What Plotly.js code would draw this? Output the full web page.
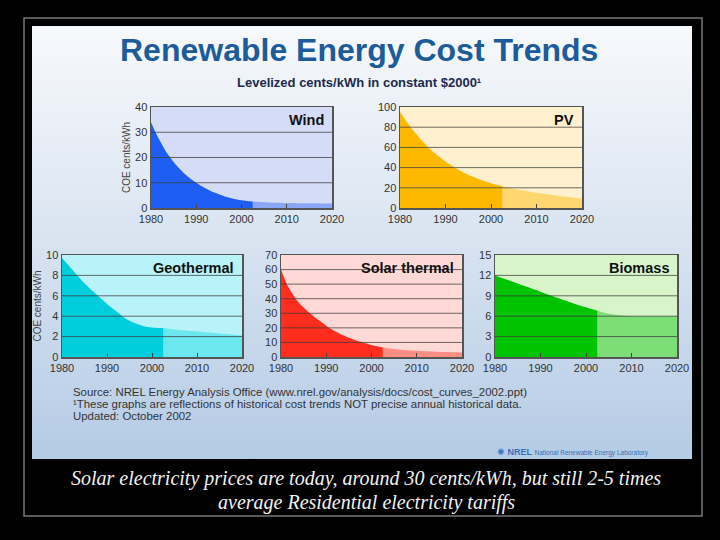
<!DOCTYPE html>
<html>
<head>
<meta charset="utf-8">
<script src="https://cdn.plot.ly/plotly-3.0.1.min.js"></script>
<style>
  html, body { margin: 0; padding: 0; background: #000; }
  #wrap { position: relative; width: 720px; height: 540px; background: #000; }
  #slide { position: absolute; left: 32px; top: 26px; width: 660px; height: 433px;
           background: linear-gradient(#f7f9fc 0%, #dfe8f3 40%, #b4cbe5 100%); }
  #chart { position: absolute; left: 0; top: 0; width: 720px; height: 540px; }
</style>
</head>
<body>
<div id="wrap">
  <div id="slide"></div>
  <div id="chart"></div>
</div>
<script>
// historical (dark) and projected (light) cost curves, cents/kWh
var windHistYears = [1980, 1981, 1982, 1983, 1984, 1985, 1986, 1987, 1988, 1990, 1992, 1994, 1996, 1998, 2000, 2002.5];
var windHist      = [34, 30, 26.5, 23.3, 20.6, 18.2, 16.1, 14.3, 12.7, 10, 7.8, 6.1, 4.8, 3.8, 3.1, 2.6];
var windProjYears = [2002.5, 2005, 2010, 2015, 2020];
var windProj      = [2.6, 2.3, 2.0, 1.9, 1.8];

var pvHistYears = [1980, 1982, 1984, 1986, 1988, 1990, 1992, 1994, 1996, 1998, 2000, 2002.5];
var pvHist      = [95, 82, 71, 61, 53, 46, 40, 35, 31, 27.5, 24.5, 21.5];
var pvProjYears = [2002.5, 2005, 2010, 2015, 2020];
var pvProj      = [21.5, 19, 15, 12, 9.5];

var geoHistYears = [1980, 1982, 1984, 1986, 1988, 1990, 1992, 1994, 1996, 1998, 2000, 2002.5];
var geoHist      = [9.7, 8.7, 7.7, 6.8, 6.0, 5.2, 4.5, 3.8, 3.35, 3.05, 2.9, 2.85];
var geoProjYears = [2002.5, 2005, 2010, 2015, 2020];
var geoProj      = [2.85, 2.7, 2.5, 2.3, 2.1];

var stHistYears = [1980, 1981, 1982, 1984, 1986, 1988, 1990, 1992, 1994, 1996, 1998, 2000, 2002.5];
var stHist      = [60, 52, 46, 37, 31, 26, 21.5, 17.5, 14.5, 12, 10, 8.3, 6.5];
var stProjYears = [2002.5, 2005, 2010, 2015, 2020];
var stProj      = [6.5, 5.5, 4.3, 3.6, 3.1];

var bioHistYears = [1980, 1985, 1990, 1995, 2000, 2002.5];
var bioHist      = [12, 10.8, 9.6, 8.4, 7.3, 6.8];
var bioProjYears = [2002.5, 2004, 2006, 2008, 2010, 2015, 2020];
var bioProj      = [6.8, 6.5, 6.25, 6.1, 6.0, 6.0, 6.0];

var yearTicks = [1980, 1990, 2000, 2010, 2020];
var windTicks = [0, 10, 20, 30, 40];
var pvTicks   = [0, 20, 40, 60, 80, 100];
var geoTicks  = [0, 2, 4, 6, 8, 10];
var stTicks   = [0, 10, 20, 30, 40, 50, 60, 70];
var bioTicks  = [0, 3, 6, 9, 12, 15];

var sourceLines = [
  'Source: NREL Energy Analysis Office (www.nrel.gov/analysis/docs/cost_curves_2002.ppt)',
  '¹These graphs are reflections of historical cost trends NOT precise annual historical data.',
  'Updated: October 2002'
];

var px = function (x) { return x / 720; };
var py = function (y) { return 1 - y / 540; };

// panel boxes in pixels: left, right, top, bottom
var panels = [
  {name: 'Wind', hx: windHistYears, hy: windHist, fx: windProjYears, fy: windProj, ticks: windTicks,
   box: [151, 332, 107, 208], bg: '#d5dcf8', dark: '#1f5ef5', light: '#8aa6f5', ytitle: 'COE cents/kWh'},
  {name: 'PV', hx: pvHistYears, hy: pvHist, fx: pvProjYears, fy: pvProj, ticks: pvTicks,
   box: [400, 582, 107, 208], bg: '#fff1cf', dark: '#fdb900', light: '#ffd670', ytitle: ''},
  {name: 'Geothermal', hx: geoHistYears, hy: geoHist, fx: geoProjYears, fy: geoProj, ticks: geoTicks,
   box: [62, 242, 255, 357], bg: '#b7f3f8', dark: '#00cedc', light: '#6ce6ef', ytitle: 'COE cents/kWh'},
  {name: 'Solar thermal', hx: stHistYears, hy: stHist, fx: stProjYears, fy: stProj, ticks: stTicks,
   box: [281, 462, 255, 357], bg: '#ffd9d6', dark: '#ff2d1d', light: '#ff8f86', ytitle: ''},
  {name: 'Biomass', hx: bioHistYears, hy: bioHist, fx: bioProjYears, fy: bioProj, ticks: bioTicks,
   box: [495, 677, 255, 357], bg: '#d7f5c9', dark: '#00c400', light: '#7ddd77', ytitle: ''}
];

var sans = 'Liberation Sans, Arial, sans-serif';
var tickFont = {family: sans, size: 11, color: '#333'};
var data = [];
var layout = {
  width: 720, height: 540,
  margin: {l: 0, r: 0, t: 0, b: 0},
  paper_bgcolor: 'rgba(0,0,0,0)',
  showlegend: false,
  shapes: [],
  annotations: []
};

panels.forEach(function (p, i) {
  var n = i === 0 ? '' : String(i + 1);
  var xa = 'x' + n, ya = 'y' + n;
  data.push({x: p.fx, y: p.fy, xaxis: xa, yaxis: ya, type: 'scatter', mode: 'lines',
             line: {width: 0, shape: 'spline', smoothing: 0.8}, fill: 'tozeroy', fillcolor: p.light, hoverinfo: 'skip'});
  data.push({x: p.hx, y: p.hy, xaxis: xa, yaxis: ya, type: 'scatter', mode: 'lines',
             line: {width: 0, shape: 'spline', smoothing: 0.8}, fill: 'tozeroy', fillcolor: p.dark, hoverinfo: 'skip'});

  var top = p.ticks[p.ticks.length - 1];
  layout['xaxis' + n] = {
    domain: [px(p.box[0]), px(p.box[1])], anchor: ya, range: [1980, 2020],
    tickvals: yearTicks, ticks: 'inside', ticklen: 4, tickcolor: '#444',
    showgrid: false, zeroline: false, showline: true, mirror: true,
    linecolor: '#555', linewidth: 1.5, tickfont: tickFont, layer: 'above traces', fixedrange: true
  };
  layout['yaxis' + n] = {
    domain: [py(p.box[3]), py(p.box[2])], anchor: xa, range: [0, top],
    tickvals: p.ticks, ticks: '', showgrid: false, zeroline: false, showline: true, mirror: true,
    linecolor: '#555', linewidth: 1.5, tickfont: tickFont, layer: 'above traces', fixedrange: true,
    title: {text: p.ytitle, font: {family: sans, size: 10, color: '#444'}, standoff: 2}
  };
  // plot background
  layout.shapes.push({type: 'rect', xref: xa + ' domain', yref: ya + ' domain', x0: 0, x1: 1, y0: 0, y1: 1,
                      fillcolor: p.bg, line: {width: 0}, layer: 'below'});
  // grid lines drawn over the fills
  p.ticks.forEach(function (t) {
    if (t === 0 || t === top) return;
    layout.shapes.push({type: 'line', xref: xa + ' domain', yref: ya, x0: 0, x1: 1, y0: t, y1: t,
                        line: {color: 'rgba(60,60,60,0.75)', width: 1}, layer: 'above'});
  });
  layout.annotations.push({text: '<b>' + p.name + '</b>', xref: xa + ' domain', yref: ya + ' domain',
                           x: 0.965, y: 0.87, xanchor: 'right', yanchor: 'middle', showarrow: false,
                           font: {family: sans, size: 14.5, color: '#111'}});
});

// outer frame
layout.shapes.push({type: 'rect', xref: 'paper', yref: 'paper', x0: px(24), x1: px(702), y0: py(516), y1: py(18),
                    line: {color: '#777', width: 1.5}, fillcolor: 'rgba(0,0,0,0)', layer: 'below'});

sourceLines.forEach(function (s, k) {
  layout.annotations.push({text: s, xref: 'paper', yref: 'paper', x: px(71), y: py(392 + 12 * k),
                           xanchor: 'left', yanchor: 'middle', showarrow: false,
                           font: {family: sans, size: 11.4, color: '#333'}});
});

layout.annotations.push(
  {text: '<b>Renewable Energy Cost Trends</b>', xref: 'paper', yref: 'paper', x: px(359), y: py(50),
   xanchor: 'center', yanchor: 'middle', showarrow: false, font: {family: sans, size: 32, color: '#1d5c9b'}},
  {text: '<b>Levelized cents/kWh in constant $2000¹</b>', xref: 'paper', yref: 'paper', x: px(359), y: py(82),
   xanchor: 'center', yanchor: 'middle', showarrow: false, font: {family: sans, size: 13, color: '#1b2a4e'}},
  {text: '<span style="color:#3a78c8">✺</span> <b>NREL</b> <span style="font-size:6.5px">National Renewable Energy Laboratory</span>',
   xref: 'paper', yref: 'paper', x: px(495), y: py(452), xanchor: 'left', yanchor: 'middle', showarrow: false,
   font: {family: sans, size: 9, color: '#3a6fb8'}},
  {text: '<i>Solar electricity prices are today, around 30 cents/kWh, but still 2-5 times</i>',
   xref: 'paper', yref: 'paper', x: px(366), y: py(478), xanchor: 'center', yanchor: 'middle', showarrow: false,
   font: {family: 'Liberation Serif, Times New Roman, serif', size: 20, color: '#f2f2f2'}},
  {text: '<i>average Residential electricity tariffs</i>',
   xref: 'paper', yref: 'paper', x: px(366), y: py(502), xanchor: 'center', yanchor: 'middle', showarrow: false,
   font: {family: 'Liberation Serif, Times New Roman, serif', size: 20, color: '#f2f2f2'}}
);

Plotly.newPlot('chart', data, layout, {displayModeBar: false, staticPlot: true});
</script>
</body>
</html>
